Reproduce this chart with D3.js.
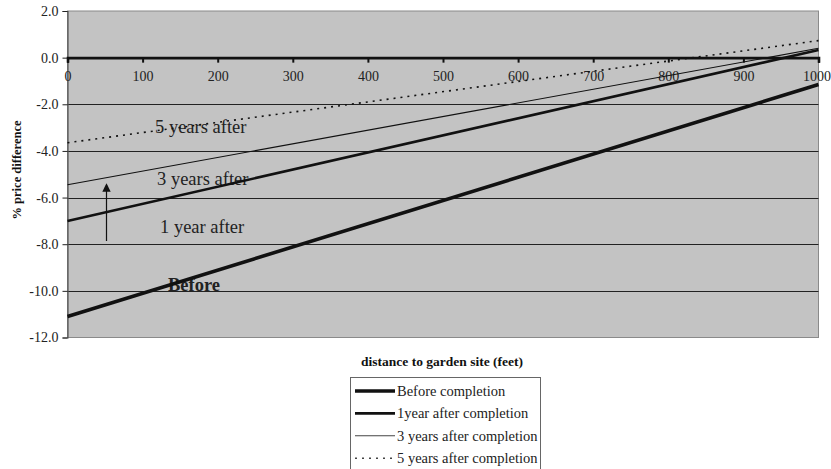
<!DOCTYPE html>
<html>
<head>
<meta charset="utf-8">
<script src="https://cdn.jsdelivr.net/npm/d3@7"></script>
<style>
  body { margin: 0; background: #fff; }
  svg { display: block; font-family: "Liberation Serif", "Times New Roman", serif; }
</style>
</head>
<body>
<div id="chart"></div>
<script>
  'use strict';

  // distance to garden site (feet), endpoints of each fitted line
  var distance = [0, 1000];
  var before = [-11.1, -1.15];
  var oneYear = [-7.0, 0.33];
  var threeYears = [-5.45, 0.4];
  var fiveYears = [-3.65, 0.73];

  var xTicks = [0, 100, 200, 300, 400, 500, 600, 700, 800, 900, 1000];
  var yTicks = [2, 0, -2, -4, -6, -8, -10, -12];

  var series = [
    { name: 'Before completion', label: 'Before', values: before, width: 3.6, dash: null, lx: 168, ly: 291, bold: true },
    { name: '1year after completion', label: '1 year after', values: oneYear, width: 2.6, dash: null, lx: 160, ly: 233 },
    { name: '3 years after completion', label: '3 years after', values: threeYears, width: 1.1, dash: null, lx: 157, ly: 185 },
    { name: '5 years after completion', label: '5 years after', values: fiveYears, width: 1.6, dash: '2,5', lx: 155, ly: 133 }
  ];

  var width = 831,
      height = 469,
      plot = { left: 67.5, right: 818.5, top: 11, bottom: 337.5 };

  var svg = d3.select('#chart').append('svg')
    .attr('width', width)
    .attr('height', height);

  var x = d3.scaleLinear().domain([0, 1000]).range([plot.left, plot.right]);
  var y = d3.scaleLinear().domain([-12, 2]).range([plot.bottom, plot.top]);

  // plot background
  svg.append('rect')
    .attr('x', plot.left)
    .attr('y', plot.top)
    .attr('width', plot.right - plot.left)
    .attr('height', plot.bottom - plot.top)
    .attr('fill', '#c3c3c3')
    .attr('stroke', '#8a8a8a')
    .attr('stroke-width', 1);

  // horizontal gridlines
  svg.append('g')
    .selectAll('line')
    .data(yTicks.filter(function (d) { return d < 2 && d > -12 && d !== 0; }))
    .enter()
    .append('line')
      .attr('x1', plot.left)
      .attr('x2', plot.right)
      .attr('y1', function (d) { return Math.round(y(d)) + 0.5; })
      .attr('y2', function (d) { return Math.round(y(d)) + 0.5; })
      .attr('stroke', '#222')
      .attr('stroke-width', 1);

  // y axis
  var yAxis = svg.append('g')
    .attr('transform', 'translate(' + plot.left + ',0)')
    .call(d3.axisLeft(y).tickValues(yTicks).tickSize(5).tickPadding(4));
  yAxis.select('.domain').attr('stroke', '#555').attr('stroke-width', 1.2);
  yAxis.selectAll('.tick line').attr('stroke', '#222');
  yAxis.selectAll('.tick text')
    .attr('font-family', '"Liberation Serif", serif')
    .attr('font-size', 14)
    .attr('fill', '#222')
    .text(function (d) { return d3.format('.1f')(d).replace('\u2212', '-'); });

  // x axis on the zero line
  var xAxis = svg.append('g')
    .attr('transform', 'translate(0,' + y(0) + ')')
    .call(d3.axisBottom(x).tickValues(xTicks).tickFormat(d3.format('d')).tickSize(5).tickPadding(8));
  xAxis.select('.domain').attr('stroke', '#111').attr('stroke-width', 2.6);
  xAxis.selectAll('.tick line').attr('stroke', '#111').attr('stroke-width', 2);
  xAxis.selectAll('.tick text')
    .attr('font-family', '"Liberation Serif", serif')
    .attr('font-size', 14)
    .attr('fill', '#222')
    .attr('dx', function (d) { return d === 1000 ? -2 : 0; });

  // in-plot labels (drawn under the lines)
  svg.append('g')
    .selectAll('text')
    .data(series)
    .enter()
    .append('text')
      .attr('x', function (d) { return d.lx; })
      .attr('y', function (d) { return d.ly; })
      .attr('font-size', 18.5)
      .attr('font-weight', function (d) { return d.bold ? 'bold' : 'normal'; })
      .attr('fill', '#222')
      .text(function (d) { return d.label; });

  // arrow
  var defs = svg.append('defs');
  defs.append('marker')
    .attr('id', 'arrowhead')
    .attr('viewBox', '0 0 10 10')
    .attr('refX', 8)
    .attr('refY', 5)
    .attr('markerWidth', 7)
    .attr('markerHeight', 7)
    .attr('orient', 'auto')
    .append('path')
      .attr('d', 'M0,0 L10,5 L0,10 z')
      .attr('fill', '#111');

  svg.append('line')
    .attr('x1', 106.5)
    .attr('x2', 106.5)
    .attr('y1', 241)
    .attr('y2', 185)
    .attr('stroke', '#111')
    .attr('stroke-width', 1.2)
    .attr('marker-end', 'url(#arrowhead)');

  // series lines
  var line = d3.line()
    .x(function (d, i) { return x(distance[i]); })
    .y(function (d) { return y(d); });

  svg.append('g')
    .selectAll('path')
    .data(series)
    .enter()
    .append('path')
      .attr('d', function (d) { return line(d.values); })
      .attr('fill', 'none')
      .attr('stroke', '#111')
      .attr('stroke-width', function (d) { return d.width; })
      .attr('stroke-dasharray', function (d) { return d.dash; });

  // axis titles
  svg.append('text')
    .attr('transform', 'translate(21,170) rotate(-90)')
    .attr('text-anchor', 'middle')
    .attr('font-size', 12.5)
    .attr('font-weight', 'bold')
    .attr('fill', '#111')
    .text('% price difference');

  svg.append('text')
    .attr('x', 442)
    .attr('y', 366)
    .attr('text-anchor', 'middle')
    .attr('font-size', 13.5)
    .attr('font-weight', 'bold')
    .attr('fill', '#111')
    .text('distance to garden site (feet)');

  // legend
  var legend = svg.append('g');
  legend.append('rect')
    .attr('x', 350.5)
    .attr('y', 377.5)
    .attr('width', 190)
    .attr('height', 100)
    .attr('fill', '#fff')
    .attr('stroke', '#666')
    .attr('stroke-width', 1);

  var rows = legend.selectAll('g.row')
    .data(series)
    .enter()
    .append('g')
      .attr('class', 'row')
      .attr('transform', function (d, i) { return 'translate(0,' + (391 + i * 22.4) + ')'; });

  rows.append('line')
    .attr('x1', 355)
    .attr('x2', 395)
    .attr('y1', 0)
    .attr('y2', 0)
    .attr('stroke', function (d, i) { return i >= 2 ? '#444' : '#111'; })
    .attr('stroke-width', function (d) { return d.width; })
    .attr('stroke-dasharray', function (d) { return d.dash; });

  rows.append('text')
    .attr('x', 397)
    .attr('y', 5)
    .attr('font-size', 14.5)
    .attr('fill', '#222')
    .text(function (d) { return d.name; });
</script>
</body>
</html>
